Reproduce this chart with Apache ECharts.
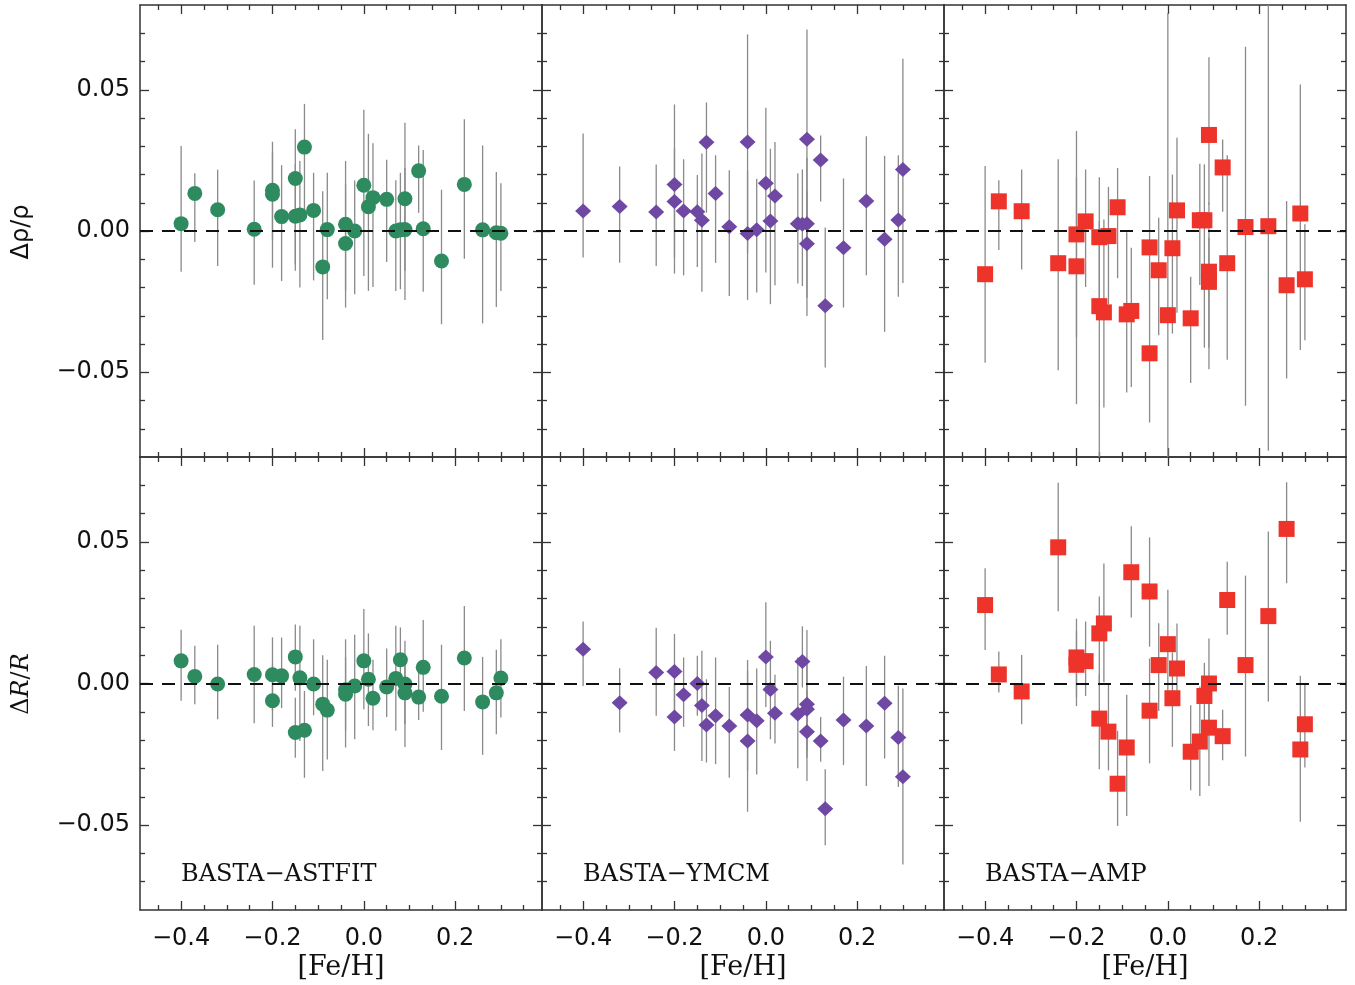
<!DOCTYPE html>
<html><head><meta charset="utf-8">
<script src="https://cdn.jsdelivr.net/npm/echarts@6/dist/echarts.min.js"></script>
<style>html,body{margin:0;padding:0;background:#fff}#c{width:1355px;height:985px}</style>
</head><body><div id="c"></div>
<script>
// ---------- tick labels ----------
const xTickLabels = [-0.4, -0.2, 0.0, 0.2];
const xMinorTicks = [-0.45, -0.35, -0.3, -0.25, -0.15, -0.1, -0.05, 0.05, 0.1, 0.15, 0.25, 0.3, 0.35];
const yTickLabels = [-0.05, 0.0, 0.05];
const yMinorTicks = [-0.07, -0.06, -0.04, -0.03, -0.02, -0.01, 0.01, 0.02, 0.03, 0.04, 0.06, 0.07];
const panelNames = ['BASTA\u2212ASTFIT', 'BASTA\u2212YMCM', 'BASTA\u2212AMP'];

// ---------- BASTA-ASTFIT ----------
const fehAstfit = [-0.40,-0.37,-0.32,-0.24,-0.20,-0.20,-0.18,-0.15,-0.15,-0.14,-0.13,-0.11,-0.09,-0.08,-0.04,-0.04,-0.02,0.00,0.01,0.02,0.05,0.07,0.08,0.09,0.09,0.12,0.13,0.17,0.22,0.26,0.29,0.30];
const rhoAstfit   = [0.0026,0.0133,0.0075,0.0006,0.0144,0.0130,0.0051,0.0186,0.0052,0.0057,0.0297,0.0073,-0.0127,0.0005,0.0024,-0.0044,0.0000,0.0162,0.0086,0.0118,0.0112,0.0000,0.0004,0.0114,0.0005,0.0213,0.0008,-0.0106,0.0165,0.0004,-0.0006,-0.0008];
const rhoAstfitHi = [0.0301,0.0204,0.0217,0.0179,0.0316,0.0277,0.0233,0.0360,0.0236,0.0248,0.0450,0.0206,0.0141,0.0206,0.0248,0.0165,0.0179,0.0429,0.0344,0.0311,0.0252,0.0180,0.0206,0.0383,0.0224,0.0303,0.0287,0.0146,0.0396,0.0303,0.0209,0.0169];
const rhoAstfitLo = [-0.0144,-0.0039,-0.0124,-0.0190,-0.0130,-0.0029,-0.0177,-0.0141,-0.0118,-0.0200,0.0047,-0.0175,-0.0386,-0.0242,-0.0271,-0.0212,-0.0224,-0.0159,-0.0212,-0.0198,-0.0110,-0.0212,-0.0206,-0.0141,-0.0244,0.0065,-0.0215,-0.0330,-0.0098,-0.0327,-0.0269,-0.0212];
const radAstfit   = [0.0080,0.0025,-0.0002,0.0032,0.0031,-0.0061,0.0027,0.0094,-0.0173,0.0020,-0.0165,-0.0002,-0.0073,-0.0094,-0.0022,-0.0038,-0.0009,0.0080,0.0015,-0.0052,-0.0012,0.0018,0.0084,-0.0002,-0.0033,-0.0048,0.0057,-0.0045,0.0090,-0.0065,-0.0033,0.0019];
const radAstfitHi = [0.0190,0.0133,0.0137,0.0204,0.0163,0.0068,0.0162,0.0208,-0.0050,0.0204,-0.0026,0.0156,0.0100,0.0084,0.0156,0.0092,0.0172,0.0263,0.0177,0.0084,0.0124,0.0204,0.0198,0.0151,0.0092,0.0045,0.0224,0.0137,0.0274,0.0094,0.0119,0.0156];
const radAstfitLo = [-0.0061,-0.0073,-0.0126,-0.0140,-0.0097,-0.0153,-0.0087,-0.0026,-0.0262,-0.0203,-0.0333,-0.0112,-0.0309,-0.0268,-0.0226,-0.0167,-0.0197,-0.0091,-0.0150,-0.0165,-0.0118,-0.0167,-0.0026,-0.0224,-0.0144,-0.0129,-0.0100,-0.0235,-0.0097,-0.0252,-0.0179,-0.0120];

// ---------- BASTA-YMCM ----------
const fehYmcm = [-0.40,-0.32,-0.24,-0.20,-0.20,-0.18,-0.15,-0.14,-0.13,-0.11,-0.08,-0.04,-0.04,-0.02,0.00,0.01,0.02,0.07,0.08,0.09,0.09,0.09,0.12,0.13,0.17,0.22,0.26,0.29,0.30];
const rhoYmcm   = [0.0071,0.0087,0.0067,0.0165,0.0104,0.0071,0.0068,0.0038,0.0314,0.0133,0.0015,0.0315,-0.0009,0.0004,0.0169,0.0035,0.0124,0.0026,0.0024,0.0325,0.0026,-0.0045,0.0251,-0.0265,-0.0059,0.0106,-0.0029,0.0039,0.0218];
const rhoYmcmHi = [0.0345,0.0228,0.0235,0.0448,0.0292,0.0254,0.0198,0.0274,0.0455,0.0268,0.0215,0.0696,0.0212,0.0185,0.0436,0.0291,0.0315,0.0204,0.0218,0.0713,0.0259,0.0141,0.0338,0.0012,0.0186,0.0335,0.0266,0.0268,0.0610];
const rhoYmcmLo = [-0.0094,-0.0112,-0.0124,-0.0151,-0.0094,-0.0157,-0.0127,-0.0215,0.0065,-0.0113,-0.0230,-0.0077,-0.0244,-0.0218,-0.0147,-0.0259,-0.0192,-0.0186,-0.0195,-0.0024,-0.0236,-0.0301,0.0104,-0.0483,-0.0271,-0.0157,-0.0357,-0.0233,-0.0184];
const radYmcm   = [0.0121,-0.0068,0.0039,0.0042,-0.0118,-0.0040,0.0000,-0.0078,-0.0147,-0.0114,-0.0150,-0.0111,-0.0203,-0.0132,0.0094,-0.0021,-0.0105,-0.0108,0.0078,-0.0073,-0.0091,-0.0170,-0.0203,-0.0442,-0.0129,-0.0150,-0.0070,-0.0191,-0.0329];
const radYmcmHi = [0.0219,0.0054,0.0197,0.0175,-0.0002,0.0092,0.0098,0.0116,0.0015,0.0092,-0.0012,0.0083,0.0045,0.0053,0.0287,0.0151,0.0031,0.0092,0.0202,0.0189,0.0068,-0.0026,-0.0118,-0.0303,0.0024,0.0062,0.0098,-0.0008,-0.0018];
const radYmcmLo = [-0.0009,-0.0173,-0.0114,-0.0097,-0.0238,-0.0153,-0.0114,-0.0274,-0.0279,-0.0285,-0.0333,-0.0309,-0.0453,-0.0321,-0.0083,-0.0197,-0.0212,-0.0299,-0.0014,-0.0262,-0.0238,-0.0344,-0.0276,-0.0571,-0.0288,-0.0362,-0.0265,-0.0366,-0.0639];

// ---------- BASTA-AMP ----------
const fehAmpRho = [-0.40,-0.37,-0.32,-0.24,-0.20,-0.20,-0.18,-0.15,-0.15,-0.14,-0.13,-0.11,-0.09,-0.08,-0.04,-0.04,-0.02,0.00,0.01,0.02,0.05,0.07,0.08,0.09,0.09,0.09,0.12,0.13,0.17,0.22,0.26,0.29,0.30];
const rhoAmp   = [-0.0153,0.0105,0.0070,-0.0114,-0.0012,-0.0125,0.0034,-0.0022,-0.0266,-0.0288,-0.0018,0.0084,-0.0295,-0.0283,-0.0058,-0.0433,-0.0139,-0.0298,-0.0061,0.0073,-0.0309,0.0038,0.0038,0.0340,-0.0144,-0.0180,0.0225,-0.0114,0.0014,0.0017,-0.0192,0.0062,-0.0171];
const rhoAmpHi = [0.0230,0.0180,0.0218,0.0254,0.0354,0.0189,0.0218,0.0190,0.0035,0.0041,0.0156,0.0223,-0.0004,-0.0059,0.0195,-0.0212,0.0047,0.0772,0.0200,0.0330,-0.0162,0.0238,0.0236,0.0615,0.0100,-0.0024,0.0324,0.0268,0.0652,0.0850,0.0106,0.0519,0.0024];
const rhoAmpLo = [-0.0466,-0.0067,-0.0136,-0.0493,-0.0377,-0.0613,-0.0198,-0.0236,-0.0850,-0.0625,-0.0259,-0.0167,-0.0572,-0.0552,-0.0212,-0.0678,-0.0369,-0.0850,-0.0363,-0.0289,-0.0538,-0.0191,-0.0413,0.0094,-0.0413,-0.0489,0.0068,-0.0456,-0.0619,-0.0778,-0.0522,-0.0421,-0.0387];
const fehAmpRad = [-0.40,-0.37,-0.32,-0.24,-0.20,-0.20,-0.18,-0.15,-0.15,-0.14,-0.13,-0.11,-0.09,-0.08,-0.04,-0.04,-0.02,0.00,0.01,0.02,0.05,0.07,0.08,0.09,0.09,0.12,0.13,0.17,0.22,0.26,0.29,0.30];
const radAmp   = [0.0277,0.0032,-0.0028,0.0481,0.0092,0.0066,0.0079,0.0177,-0.0124,0.0212,-0.0170,-0.0354,-0.0226,0.0393,0.0325,-0.0096,0.0065,0.0139,-0.0052,0.0053,-0.0241,-0.0205,-0.0044,0.0000,-0.0156,-0.0186,0.0295,0.0065,0.0238,0.0546,-0.0233,-0.0144];
const radAmpHi = [0.0407,0.0113,0.0101,0.0709,0.0229,0.0186,0.0219,0.0307,0.0033,0.0424,-0.0002,-0.0167,-0.0040,0.0555,0.0516,0.0088,0.0213,0.0331,0.0110,0.0212,-0.0077,-0.0011,0.0073,0.0159,-0.0026,-0.0093,0.0430,0.0381,0.0537,0.0711,0.0027,-0.0002];
const radAmpLo = [0.0118,-0.0032,-0.0144,0.0255,-0.0080,-0.0050,-0.0044,-0.0002,-0.0303,0.0004,-0.0307,-0.0503,-0.0468,0.0233,0.0130,-0.0282,-0.0097,-0.0026,-0.0224,-0.0026,-0.0377,-0.0397,-0.0144,-0.0144,-0.0362,-0.0271,0.0172,-0.0258,-0.0064,0.0354,-0.0488,-0.0297];

// ---------- layout ----------
const panels = [
  {feh: fehAstfit, val: rhoAstfit, lo: rhoAstfitLo, hi: rhoAstfitHi, color: '#2e8b5f', symbol: 'circle', size: 15},
  {feh: fehYmcm,   val: rhoYmcm,   lo: rhoYmcmLo,   hi: rhoYmcmHi,   color: '#6f48a3', symbol: 'diamond', size: [16, 15]},
  {feh: fehAmpRho, val: rhoAmp,    lo: rhoAmpLo,    hi: rhoAmpHi,    color: '#ee332b', symbol: 'rect', size: 16},
  {feh: fehAstfit, val: radAstfit, lo: radAstfitLo, hi: radAstfitHi, color: '#2e8b5f', symbol: 'circle', size: 15},
  {feh: fehYmcm,   val: radYmcm,   lo: radYmcmLo,   hi: radYmcmHi,   color: '#6f48a3', symbol: 'diamond', size: [16, 15]},
  {feh: fehAmpRad, val: radAmp,    lo: radAmpLo,    hi: radAmpHi,    color: '#ee332b', symbol: 'rect', size: 16}
];
const lefts = [140, 542, 944];
const grids = [], xAxes = [], yAxes = [], series = [];
const numFont = 'DejaVu Sans';
const fmtNum = (v, d) => (v < -1e-9 ? '\u2212' : '') + Math.abs(v).toFixed(d);
const lineCol = '#333';

panels.forEach((p, g) => {
  const row = Math.floor(g / 3), col = g % 3;
  grids.push({left: lefts[col], width: 402, top: row ? 457 : 5, height: row ? 453 : 452, containLabel: false});
  const base = 4 * g;
  const mkX = (pos, major, labels) => ({
    type: 'value', gridIndex: g, position: pos, min: -0.49, max: 0.39,
    axisLine: {show: major, onZero: false, lineStyle: {color: lineCol, width: 1.5}},
    axisTick: {show: true, inside: true, length: major ? 9 : 5, customValues: major ? xTickLabels : xMinorTicks,
               lineStyle: {color: lineCol, width: 1.3}},
    axisLabel: labels ? {show: true, customValues: xTickLabels, formatter: v => fmtNum(v, 1),
               fontFamily: numFont, fontSize: 24, color: '#111', margin: 17} : {show: false},
    splitLine: {show: false}
  });
  xAxes.push(mkX('bottom', true, row === 1), mkX('bottom', false, false), mkX('top', true, false), mkX('top', false, false));
  const mkY = (pos, major, labels) => ({
    type: 'value', gridIndex: g, position: pos, min: -0.08, max: 0.08,
    axisLine: {show: major, onZero: false, lineStyle: {color: lineCol, width: 1.5}},
    axisTick: {show: true, inside: true, length: major ? 9 : 5, customValues: major ? yTickLabels : yMinorTicks,
               lineStyle: {color: lineCol, width: 1.3}},
    axisLabel: labels ? {show: true, customValues: yTickLabels, formatter: v => fmtNum(v, 2),
               fontFamily: numFont, fontSize: 24, color: '#111', margin: 10} : {show: false},
    splitLine: {show: false}
  });
  yAxes.push(mkY('left', true, col === 0), mkY('left', false, false), mkY('right', true, false), mkY('right', false, false));

  series.push({
    type: 'custom', xAxisIndex: base, yAxisIndex: base, clip: true, z: 2, silent: true,
    data: p.feh.map((x, i) => [x, p.lo[i], p.hi[i]]),
    renderItem: (params, api) => {
      const x = api.value(0);
      const a = api.coord([x, api.value(1)]);
      const b = api.coord([x, api.value(2)]);
      return {type: 'line', shape: {x1: a[0], y1: a[1], x2: b[0], y2: b[1]},
              style: {stroke: '#8a8a8a', lineWidth: 1.3}};
    }
  });
  series.push({
    type: 'line', xAxisIndex: base, yAxisIndex: base, data: [], z: 3, silent: true,
    markLine: {silent: true, symbol: ['none', 'none'], label: {show: false}, animation: false,
               lineStyle: {color: '#111', type: [13, 9], width: 2}, data: [{yAxis: 0}]}
  });
  series.push({
    type: 'scatter', xAxisIndex: base, yAxisIndex: base, z: 4, silent: true,
    symbol: p.symbol, symbolSize: p.size,
    itemStyle: {color: p.color, opacity: 1},
    data: p.feh.map((x, i) => [x, p.val[i]])
  });
});

const graphic = [];
panelNames.forEach((t, c) => {
  graphic.push({type: 'text', left: lefts[c] + 41, top: 863,
    style: {text: t, font: '24px "DejaVu Serif"', fill: '#111'}});
  graphic.push({type: 'text', x: lefts[c] + 201, y: 968,
    style: {text: '[Fe/H]', font: '27px "DejaVu Serif"', fill: '#111', align: 'center', verticalAlign: 'middle'}});
});
graphic.push({type: 'text', x: 22, y: 232, rotation: Math.PI / 2,
  style: {text: '\u0394\u03c1/\u03c1', font: '24px "DejaVu Sans"', fill: '#111', align: 'center', verticalAlign: 'middle'}});
graphic.push({type: 'text', x: 22, y: 684, rotation: Math.PI / 2,
  style: {text: '\u0394{i|R}/{i|R}', font: '24px "DejaVu Serif"', fill: '#111', align: 'center', verticalAlign: 'middle',
          rich: {i: {font: 'italic 24px "DejaVu Serif"', fill: '#111'}}}});

const chart = echarts.init(document.getElementById('c'), null, {renderer: 'canvas'});
chart.setOption({
  animation: false,
  backgroundColor: '#fff',
  grid: grids, xAxis: xAxes, yAxis: yAxes, series: series, graphic: graphic
});
</script></body></html>
